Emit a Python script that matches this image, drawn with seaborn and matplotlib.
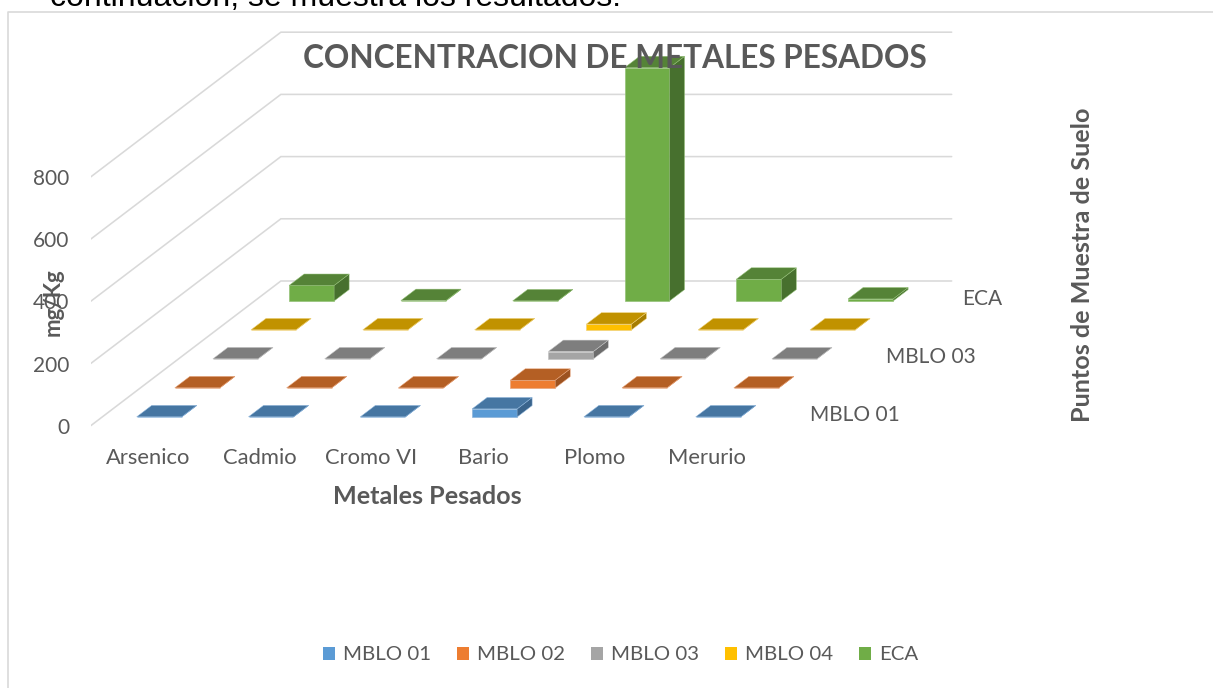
import numpy as np
import pandas as pd
import matplotlib
matplotlib.use("Agg")
import matplotlib.pyplot as plt
from matplotlib.lines import Line2D
from matplotlib.patches import Patch
from matplotlib.transforms import Affine2D
import seaborn as sns

# ---------- data ----------
metals = ["Arsenico", "Cadmio", "Cromo VI", "Bario", "Plomo", "Merurio"]
series = ["MBLO 01", "MBLO 02", "MBLO 03", "MBLO 04", "ECA"]
mblo_01 = [0.5, 0.5, 0.4, 26, 0.6, 0.3]
mblo_02 = [0.5, 0.5, 0.4, 25, 0.6, 0.3]
mblo_03 = [0.5, 0.5, 0.4, 24, 0.6, 0.3]
mblo_04 = [0.5, 0.5, 0.4, 19, 0.6, 0.3]
eca = [50, 1.4, 0.4, 750, 70, 6.6]
y_ticks = [0, 200, 400, 600, 800]
depth_labels = {"MBLO 01": 0, "MBLO 03": 2, "ECA": 4}
all_values = [mblo_01, mblo_02, mblo_03, mblo_04, eca]

front_colors = ["#5B9BD5", "#ED7D31", "#A5A5A5", "#FFC000", "#70AD47"]
top_colors = ["#4676A2", "#B45F24", "#7E7E7E", "#C19200", "#558337"]
side_colors = ["#3A648C", "#9C5220", "#6C6C6C", "#A67D00", "#47702E"]
edge_colors = ["#8DB5DC", "#E8A57C", "#C4C4C4", "#F0D27A", "#94C177"]

# ---------- geometry of the oblique projection ----------
W, H = 1213, 688
PX_PER_CAT = 111.8
PX_PER_VAL = 0.311
ROW_DX = 38.1 / PX_PER_CAT   # shift in category units per depth row
ROW_DY = 29.0 / PX_PER_VAL   # shift in value units per depth row
BAR_W = 0.4025
BAR_DEPTH = 0.394
FLOOR_FRONT, FLOOR_BACK = -0.30, 4.69
X_LEFT, X_RIGHT = -0.51, 5.49

def proj(x, v, d):
    return x + d * ROW_DX, v + d * ROW_DY

sns.set_theme(style="white")
plt.rcParams["font.family"] = ["Lato", "DejaVu Sans"]
TXT = "#595959"
FS = 15
FS_AXIS = 18.1

fig = plt.figure(figsize=(W / 100, H / 100), dpi=100, facecolor="white")
ax_l, ax_r, ax_t, ax_b = 91, 1213, 12, 445
ax = fig.add_axes([ax_l / W, 1 - ax_b / H, (ax_r - ax_l) / W, (ax_b - ax_t) / H])
ax.set_facecolor("none")

xlim = ((ax_l - 159.2) / PX_PER_CAT, (ax_r - 159.2) / PX_PER_CAT)
ylim = ((417 - ax_b) / PX_PER_VAL, (417 - ax_t) / PX_PER_VAL)

# walls: gridlines
for t in y_ticks:
    pts = [proj(X_LEFT, t, FLOOR_FRONT), proj(X_LEFT, t, FLOOR_BACK), proj(X_RIGHT, t, FLOOR_BACK)]
    ax.plot(*zip(*pts), color="#D9D9D9", lw=1.15, zorder=0.5, solid_joinstyle="miter")

# bars, back row first
positions = np.arange(len(metals))
for r in reversed(range(len(series))):
    df = pd.DataFrame({"pos": positions, "value": all_values[r]})
    shear = Affine2D().translate(r * ROW_DX, r * ROW_DY) + ax.transData
    sns.barplot(data=df, x="pos", y="value", native_scale=True, ax=ax, color=front_colors[r],
                saturation=1, width=BAR_W, errorbar=None, transform=shear,
                edgecolor=edge_colors[r], linewidth=0.5)
    for bar in ax.containers[-1]:
        x0, x1, h = bar.get_x(), bar.get_x() + bar.get_width(), bar.get_height()
        d0, d1 = r, r + BAR_DEPTH
        side = [proj(x1, 0, d0), proj(x1, 0, d1), proj(x1, h, d1), proj(x1, h, d0)]
        top = [proj(x0, h, d0), proj(x1, h, d0), proj(x1, h, d1), proj(x0, h, d1)]
        ax.fill(*zip(*side), facecolor=side_colors[r], edgecolor=edge_colors[r], lw=0.35)
        ax.fill(*zip(*top), facecolor=top_colors[r], edgecolor=edge_colors[r], lw=0.35)

ax.set_xlim(*xlim)
ax.set_ylim(*ylim)
sns.despine(ax=ax, left=True, bottom=True)

# axis ticks sit on the front edge of the floor
ax.set_xticks(positions + FLOOR_FRONT * ROW_DX)
ax.set_xticklabels(metals)
ax.set_yticks(np.array(y_ticks) + FLOOR_FRONT * ROW_DY)
ax.set_yticklabels([str(t) for t in y_ticks])
ax.tick_params(axis="both", length=0, labelcolor=TXT, labelsize=FS)
ax.tick_params(axis="y", pad=15.7)
ax.tick_params(axis="x", pad=2, labelsize=15.8)

ax.set_xlabel("Metales Pesados", color=TXT, fontsize=FS_AXIS, fontweight="bold")
ax.xaxis.set_label_coords((427 - ax_l) / (ax_r - ax_l), (ax_b - 497) / (ax_b - ax_t), ax.transAxes)
ax.xaxis.label.set_verticalalignment("center")
ax.set_ylabel("mg/Kg", color=TXT, fontsize=16, fontweight="bold")
ax.yaxis.set_label_coords((53 - ax_l) / (ax_r - ax_l), (ax_b - 302) / (ax_b - ax_t), ax.transAxes)
ax.yaxis.label.set_verticalalignment("center")

# depth axis labels
for name, r in depth_labels.items():
    ax.annotate(name, xy=proj(X_RIGHT, 0, r + 0.2), xytext=(21, -3), textcoords="offset points",
                color=TXT, fontsize=FS, va="center", ha="left", annotation_clip=False)

ax.set_title("CONCENTRACION DE METALES PESADOS", color=TXT, fontsize=22.7, fontweight="bold",
             x=(615 - ax_l) / (ax_r - ax_l), y=(ax_b - 58) / (ax_b - ax_t), va="center", pad=0, zorder=10)

# right-hand series axis title
fig.text(1082 / W, 1 - 265 / H, "Puntos de Muestra de Suelo", color=TXT, fontsize=FS_AXIS, fontweight="bold",
         rotation=90, ha="center", va="center")

# legend
handles = [Patch(facecolor=c, edgecolor="none", label=s) for c, s in zip(front_colors, series)]
fig.legend(handles=handles, loc="center", bbox_to_anchor=(620.5 / W, 1 - 655 / H), ncols=5, frameon=False,
           fontsize=14.7, labelcolor=TXT, handlelength=0.6, handleheight=0.6, handletextpad=0.38,
           columnspacing=1.27, borderpad=0)

# frame of the embedded chart and the cropped line of page text above it
fig.add_artist(Line2D([7.5 / W, 7.5 / W, 1], [0, 1 - 12 / H, 1 - 12 / H], color="#D9D9D9", lw=1.2,
                      transform=fig.transFigure))
fig.text(50 / W, 1 - 6 / H, "continuación, se muestra los resultados.", color="black",
         fontsize=23, family="Liberation Sans", va="baseline", ha="left")

fig.savefig("out.png", dpi=100)
